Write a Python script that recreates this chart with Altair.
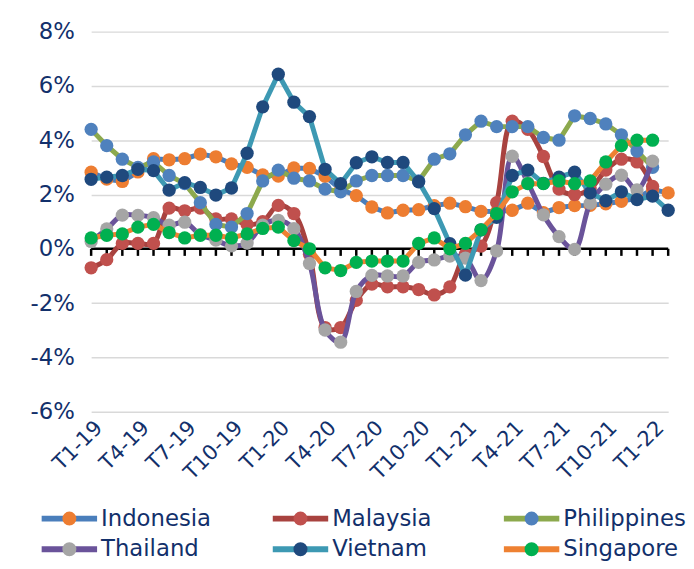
import altair as alt
import pandas as pd

months = ["T1-19", "T2-19", "T3-19", "T4-19", "T5-19", "T6-19", "T7-19", "T8-19", "T9-19", "T10-19", "T11-19", "T12-19",
          "T1-20", "T2-20", "T3-20", "T4-20", "T5-20", "T6-20", "T7-20", "T8-20", "T9-20", "T10-20", "T11-20", "T12-20",
          "T1-21", "T2-21", "T3-21", "T4-21", "T5-21", "T6-21", "T7-21", "T8-21", "T9-21", "T10-21", "T11-21", "T12-21",
          "T1-22", "T2-22"]
tick_labels = ["T1-19", "T4-19", "T7-19", "T10-19", "T1-20", "T4-20", "T7-20", "T10-20",
               "T1-21", "T4-21", "T7-21", "T10-21", "T1-22"]
y_ticks = [-6, -4, -2, 0, 2, 4, 6, 8]

countries = ["Indonesia", "Malaysia", "Philippines", "Thailand", "Vietnam", "Singapore"]

indonesia = [2.82, 2.57, 2.48, 2.83, 3.32, 3.28, 3.32, 3.49, 3.39, 3.13, 3.00, 2.72,
             2.68, 2.98, 2.96, 2.67, 2.19, 1.96, 1.54, 1.32, 1.42, 1.44, 1.59, 1.68,
             1.55, 1.38, 1.37, 1.42, 1.68, 1.33, 1.52, 1.59, 1.60, 1.66, 1.75, 1.87,
             2.18, 2.06]
malaysia = [-0.7, -0.4, 0.2, 0.2, 0.2, 1.5, 1.4, 1.5, 1.1, 1.1, 0.9, 1.0,
            1.6, 1.3, -0.2, -2.9, -2.9, -1.9, -1.3, -1.4, -1.4, -1.5, -1.7, -1.4,
            -0.2, 0.1, 1.7, 4.7, 4.4, 3.4, 2.2, 2.0, 2.2, 2.9, 3.3, 3.2,
            2.3, None]
philippines = [4.4, 3.8, 3.3, 3.0, 3.2, 2.7, 2.4, 1.7, 0.9, 0.8, 1.3, 2.5,
               2.9, 2.6, 2.5, 2.2, 2.1, 2.5, 2.7, 2.7, 2.7, 2.5, 3.3, 3.5,
               4.2, 4.7, 4.5, 4.5, 4.5, 4.1, 4.0, 4.9, 4.8, 4.6, 4.2, 3.6,
               3.0, None]
thailand = [0.27, 0.73, 1.24, 1.23, 1.15, 0.87, 0.98, 0.52, 0.32, 0.11, 0.21, 0.87,
            1.05, 0.74, -0.54, -2.99, -3.44, -1.57, -0.98, -1.0, -1.0, -0.5, -0.41, -0.27,
            -0.34, -1.17, -0.08, 3.41, 2.44, 1.25, 0.45, -0.02, 1.68, 2.38, 2.71, 2.17,
            3.23, None]
vietnam = [2.56, 2.64, 2.70, 2.93, 2.88, 2.16, 2.44, 2.26, 1.98, 2.24, 3.52, 5.23,
           6.43, 5.40, 4.87, 2.93, 2.40, 3.17, 3.39, 3.18, 3.18, 2.47, 1.48, 0.19,
           -0.97, 0.70, 1.16, 2.70, 2.90, 2.41, 2.64, 2.82, 2.06, 1.77, 2.10, 1.81,
           1.94, 1.42]
singapore = [0.4, 0.5, 0.55, 0.8, 0.9, 0.6, 0.4, 0.5, 0.5, 0.4, 0.55, 0.75,
             0.8, 0.3, 0.0, -0.7, -0.8, -0.5, -0.45, -0.45, -0.45, 0.2, 0.4, 0.0,
             0.2, 0.7, 1.3, 2.1, 2.4, 2.4, 2.5, 2.4, 2.5, 3.2, 3.8, 4.0,
             4.0, None]

series = [indonesia, malaysia, philippines, thailand, vietnam, singapore]
line_colors = ["#4A7EBB", "#A8423F", "#8CA94D", "#6A539A", "#3D99B3", "#EE8132"]
marker_colors = ["#ED7D31", "#C0504D", "#4F81BD", "#A5A5A5", "#1F497D", "#00B050"]
interps = ["linear", "catmull-rom", "linear", "catmull-rom", "linear", "linear"]

NAVY = "#12306B"
FONT = "DejaVu Sans"

rows = []
for name, vals in zip(countries, series):
    for i, v in enumerate(vals):
        if v is not None:
            rows.append({"idx": i, "month": months[i], "country": name, "value": v})
df = pd.DataFrame(rows)
months_df = pd.DataFrame({"idx": list(range(len(months))), "month": months})

label_array = "[" + ",".join("'" + m + "'" for m in months) + "]"
xscale = alt.Scale(domain=[0, len(months) - 1], nice=False, zero=False)
yscale = alt.Scale(domain=[min(y_ticks), max(y_ticks)], nice=False, zero=False)

xaxis = alt.Axis(values=[months.index(t) for t in tick_labels],
                 labelExpr=label_array + "[datum.value]",
                 labelAngle=-45, labelFontSize=21, labelColor=NAVY, labelFont=FONT,
                 domain=False, ticks=False, grid=False, title=None,
                 labelPadding=5, labelOverlap=False)
yaxis = alt.Axis(values=y_ticks, labelExpr="datum.value + '%'",
                 labelFontSize=23, labelColor=NAVY, labelFont=FONT,
                 domain=False, ticks=False, grid=True, gridColor="#D9D9D9",
                 gridWidth=1.5, title=None, labelPadding=17)

W, H = 583, 384

zero_line = alt.Chart(months_df).mark_rule(color="black", strokeWidth=2.5).encode(
    x=alt.X("min(idx):Q", scale=xscale, axis=xaxis),
    x2="max(idx):Q",
    y=alt.YDatum(0, scale=yscale, axis=yaxis),
)
ticks = alt.Chart(months_df).mark_rule(color="black", strokeWidth=2.5).encode(
    x=alt.X("idx:Q", scale=xscale, axis=xaxis),
    y=alt.YDatum(0, scale=yscale, axis=yaxis),
    y2=alt.datum(-0.26),
)

layers = [zero_line, ticks]
for name, lc, mc, interp in zip(countries, line_colors, marker_colors, interps):
    base = alt.Chart(df).transform_filter(alt.datum.country == name)
    enc = dict(x=alt.X("idx:Q", scale=xscale, axis=xaxis),
               y=alt.Y("value:Q", scale=yscale, axis=yaxis))
    layers.append(base.mark_line(color=lc, strokeWidth=5, interpolate=interp).encode(**enc))
    layers.append(base.mark_circle(color=mc, size=180, opacity=1).encode(**enc))

main = alt.layer(*layers)

# legend drawn below the plot with its own scales
leg_df = pd.DataFrame({"country": countries,
                       "col": [i % 3 for i in range(len(countries))],
                       "row": [i // 3 for i in range(len(countries))]})
col_px = 233.5
leg_x = alt.X("col:Q", scale=alt.Scale(domain=[0, 2], range=[-50, -50 + 2 * col_px], nice=False, zero=False), axis=None)
leg_y = alt.Y("row:Q", scale=alt.Scale(domain=[0, 1], range=[H + 108, H + 139], nice=False, zero=False), axis=None)
leg_base = alt.Chart(leg_df).transform_calculate(col_end="datum.col + " + str(56 / col_px))
leg_rule = leg_base.mark_rule(strokeWidth=6).encode(
    x=leg_x, x2="col_end:Q", y=leg_y,
    color=alt.Color("country:N", scale=alt.Scale(domain=countries, range=line_colors), legend=None))
leg_pt = leg_base.mark_circle(size=200, opacity=1, xOffset=28).encode(
    x=leg_x, y=leg_y,
    color=alt.Color("country:N", scale=alt.Scale(domain=countries, range=marker_colors), legend=None))
leg_text = leg_base.mark_text(align="left", baseline="middle", dx=60, fontSize=23,
                              color=NAVY, font=FONT).encode(x=leg_x, y=leg_y, text="country:N")
legend = alt.layer(leg_rule, leg_pt, leg_text).resolve_scale(color="independent")

chart = alt.layer(main, legend).resolve_scale(
    x="independent", y="independent", color="independent"
).properties(
    width=W, height=H,
    padding={"left": 22, "top": 10, "right": 0, "bottom": 0}
).configure(font=FONT).configure_view(stroke=None)

chart.save("out.html", embed_options={"renderer": "svg", "actions": False})
